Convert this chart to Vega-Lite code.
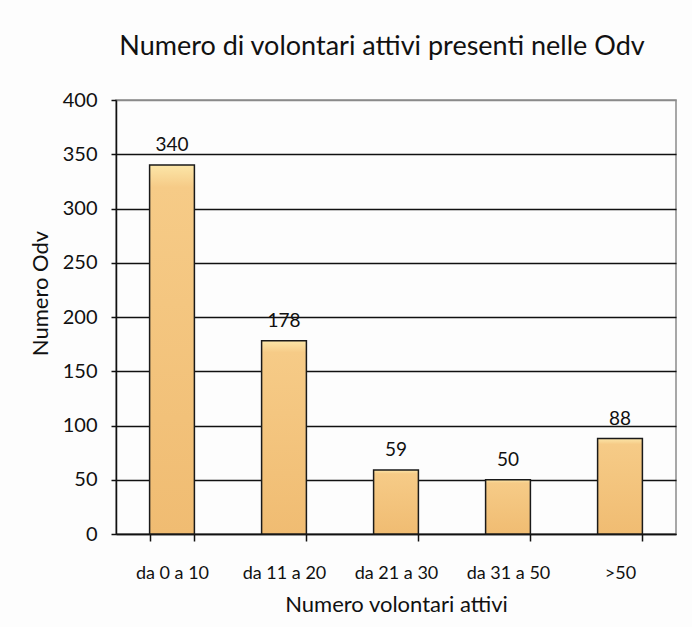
{
  "$schema": "https://vega.github.io/schema/vega-lite/v6.json",
  "width": 560,
  "height": 434,
  "autosize": {"type": "none"},
  "padding": {"left": 116, "top": 100, "right": 16, "bottom": 93},
  "background": "#fdfdfd",
  "title": {
    "text": "Numero di volontari attivi presenti nelle Odv",
    "font": "Lato",
    "fontSize": 27,
    "fontWeight": "normal",
    "color": "#111111",
    "anchor": "middle",
    "frame": "group",
    "offset": 29,
    "dx": -14
  },
  "config": {
    "view": {"stroke": "#8a8a8a", "strokeWidth": 1.5},
    "font": "Lato"
  },
  "data": {
    "values": [
      {"classe": "da 0 a 10", "odv": 340},
      {"classe": "da 11 a 20", "odv": 178},
      {"classe": "da 21 a 30", "odv": 59},
      {"classe": "da 31 a 50", "odv": 50},
      {"classe": ">50", "odv": 88}
    ]
  },
  "encoding": {
    "x": {
      "field": "classe",
      "type": "nominal",
      "sort": null,
      "scale": {"paddingInner": 0.6, "paddingOuter": 0.3},
      "axis": {
        "title": "Numero volontari attivi",
        "titleFont": "Lato",
        "titleFontSize": 22,
        "titleFontWeight": "normal",
        "titleColor": "#111111",
        "titlePadding": 12,
        "labelAngle": 0,
        "labelFont": "Lato",
        "labelFontSize": 18,
        "labelColor": "#111111",
        "labelPadding": 23,
        "tickBand": "extent",
        "tickColor": "#111111",
        "tickWidth": 1.5,
        "tickSize": 7,
        "domainColor": "#111111",
        "domainWidth": 1.5,
        "grid": false
      }
    },
    "y": {
      "field": "odv",
      "type": "quantitative",
      "scale": {"domain": [0, 400]},
      "axis": {
        "title": "Numero Odv",
        "titleFont": "Lato",
        "titleFontSize": 22,
        "titleFontWeight": "normal",
        "titleColor": "#111111",
        "titlePadding": 10,
        "titleY": 193,
        "values": [0, 50, 100, 150, 200, 250, 300, 350, 400],
        "labelFont": "Lato",
        "labelFontSize": 20,
        "labelColor": "#111111",
        "labelPadding": 14,
        "tickColor": "#111111",
        "tickWidth": 1.5,
        "tickSize": 5,
        "domainColor": "#111111",
        "domainWidth": 1.5,
        "grid": true,
        "gridColor": {"condition": {"test": "datum.value === 400", "value": "#8a8a8a"}, "value": "#111111"},
        "gridWidth": 1.5,
        "gridOpacity": 1
      }
    }
  },
  "layer": [
    {
      "mark": {
        "type": "bar",
        "stroke": "#1a1a1a",
        "strokeWidth": 1.5,
        "color": {
          "gradient": "linear",
          "x1": 0, "y1": 0, "x2": 0, "y2": 1,
          "stops": [
            {"offset": 0, "color": "#fce6a8"},
            {"offset": 0.06, "color": "#f6cb87"},
            {"offset": 1, "color": "#f0bc72"}
          ]
        }
      }
    },
    {
      "mark": {
        "type": "text",
        "baseline": "bottom",
        "dy": -10,
        "font": "Lato",
        "fontSize": 19,
        "color": "#111111"
      },
      "encoding": {"text": {"field": "odv", "type": "quantitative"}}
    }
  ]
}
